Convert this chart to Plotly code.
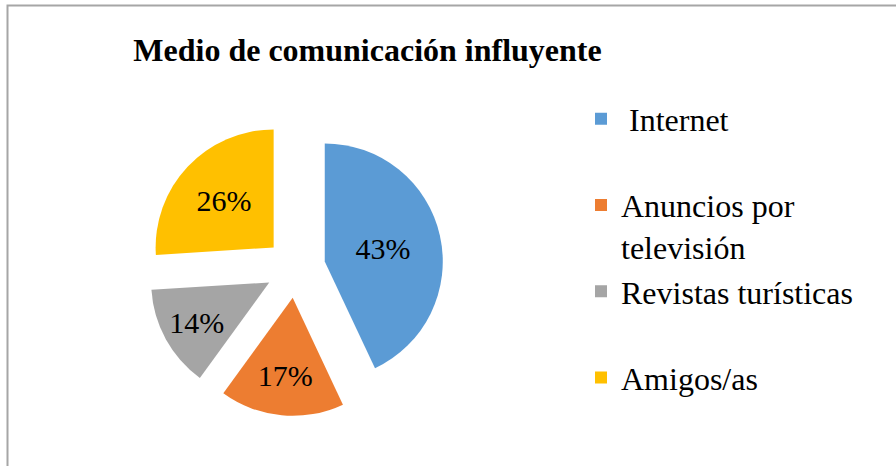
import plotly.graph_objects as go

categories = ["Internet", "Anuncios por televisión", "Revistas turísticas", "Amigos/as"]
values = [43, 17, 14, 26]
colors = ["#5B9BD5", "#ED7D31", "#A5A5A5", "#FFC000"]
title_text = "Medio de comunicación influyente"

# legend display labels (line-wrapped like the original)
legend_labels = ["\u00a0Internet<br>\u00a0", "Anuncios por<br>televisión",
                 "Revistas turísticas<br>\u00a0", "Amigos/as"]

W, H = 896, 466
serif = "Liberation Serif"

fig = go.Figure(go.Pie(
    labels=legend_labels,
    values=values,
    sort=False,
    direction="clockwise",
    rotation=0,
    pull=[0.254] * len(values),
    marker=dict(colors=colors, line=dict(width=0)),
    textinfo="percent",
    texttemplate="%{percent:.0%}",
    textposition="inside",
    insidetextorientation="horizontal",
    textfont=dict(family=serif, size=30, color="black"),
    domain=dict(x=[147.5 / W, 443.5 / W], y=[1 - 416 / H, 1 - 120 / H]),
    hoverinfo="label+percent",
))

fig.update_layout(
    width=W, height=H,
    margin=dict(l=0, r=0, t=0, b=0),
    paper_bgcolor="white",
    plot_bgcolor="white",
    uniformtext=dict(minsize=30, mode="show"),
    title=dict(text="<b>" + title_text + "</b>", x=367.5 / W, xanchor="center",
               y=1 - 50 / H, yanchor="middle", yref="container", xref="container",
               font=dict(family=serif, size=32, color="black")),
    legend=dict(x=581 / W, xanchor="left", y=1 - 91.5 / H, yanchor="top",
                valign="top", font=dict(family=serif, size=32, color="black"),
                bgcolor="rgba(0,0,0,0)"),
    shapes=[dict(type="rect", xref="paper", yref="paper",
                 x0=7.5 / W, x1=1.02, y0=-0.02, y1=1 - 5.5 / H,
                 line=dict(color="#A6A6A6", width=2))],
)

fig.write_html("out.html", config={"displayModeBar": False},
               post_script="document.body.style.margin='0';document.body.style.overflow='hidden';")
